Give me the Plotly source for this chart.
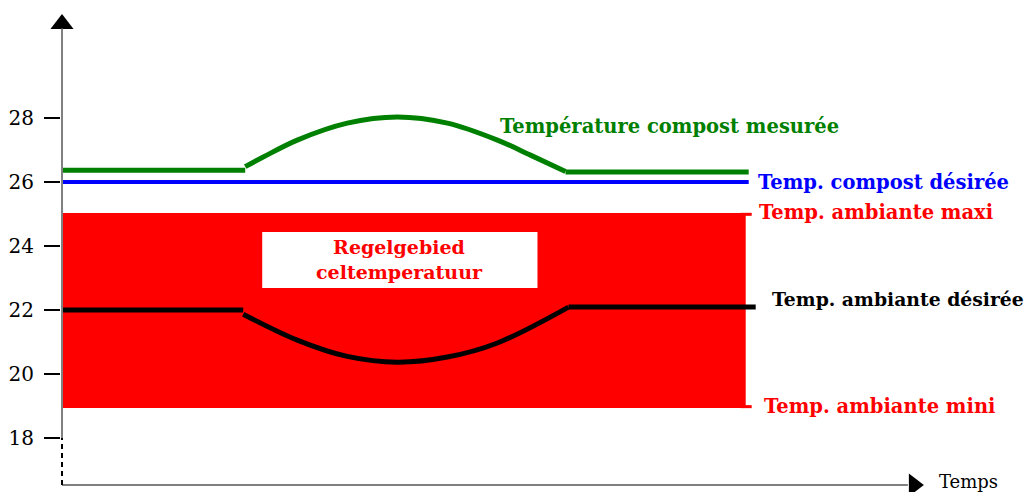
import plotly.graph_objects as go

# ---------------- data ----------------
# time axis in arbitrary units (0 = origin of the time axis)
green_flat_left_t = [0, 183]
green_flat_left_v = [26.37, 26.37]
green_curve_t = [183, 201, 235, 285, 335, 385, 435, 468, 503]
green_curve_v = [26.48, 26.78, 27.31, 27.84, 28.03, 27.84, 27.31, 26.84, 26.33]
green_flat_right_t = [503, 686]
green_flat_right_v = [26.31, 26.31]

blue_t = [0, 686]
blue_v = [26.0, 26.0]

black_flat_left_t = [0, 181]
black_flat_left_v = [22.0, 22.0]
black_curve_t = [181, 235, 285, 335, 385, 435, 506]
black_curve_v = [21.87, 21.06, 20.55, 20.37, 20.53, 20.97, 22.09]
black_flat_right_t = [506, 693]
black_flat_right_v = [22.09, 22.09]

band_t = [0, 683]
band_min, band_max = 18.94, 25.03

box_t = [200, 475]
box_v = [22.69, 24.44]

y_ticks = [18, 20, 22, 24, 26, 28]

labels = [
    ("Température compost mesurée", 436, 27.72, "#008000", 19.5),
    ("Temp. compost désirée", 693, 26.0, "#0000ff", 19.5),
    ("Temp. ambiante maxi", 694, 25.05, "#ff0000", 19.5),
    ("Temp. ambiante désirée", 707, 22.34, "#000000", 18.8),
    ("Temp. ambiante mini", 699, 18.98, "#ff0000", 19.5),
]

# ---------------- figure ----------------
# the page body adds an 8px offset, compensated in the ranges/margins
X_RANGE = [-1, 981]
Y_RANGE = [16.0625, 31.4375]
SERIF = "DejaVu Serif"

fig = go.Figure()

# red band
fig.add_shape(type="rect", x0=band_t[0], x1=band_t[1], y0=band_min, y1=band_max,
              fillcolor="#ff0000", line_width=0, layer="below")
for yv in (band_min + 0.04, band_max - 0.04):
    fig.add_shape(type="line", x0=band_t[1] - 5, x1=band_t[1] + 6, y0=yv, y1=yv,
                  line=dict(color="#ff0000", width=3))
# white box
fig.add_shape(type="rect", x0=box_t[0], x1=box_t[1], y0=box_v[0], y1=box_v[1],
              fillcolor="white", line_width=0, layer="below")
fig.add_annotation(x=(box_t[0] + box_t[1]) / 2, y=(box_v[0] + box_v[1]) / 2,
                   text="<b>Regelgebied<br>celtemperatuur</b>", showarrow=False,
                   font=dict(family=SERIF, size=19, color="#ff0000"))


def add_line(t, v, color, width, shape="linear"):
    fig.add_trace(go.Scatter(x=t, y=v, mode="lines", showlegend=False,
                             line=dict(color=color, width=width, shape=shape,
                                       smoothing=1.0)))


add_line(blue_t, blue_v, "#0000ff", 4)
add_line(green_flat_left_t, green_flat_left_v, "#008000", 5)
add_line(green_curve_t, green_curve_v, "#008000", 5, "spline")
add_line(green_flat_right_t, green_flat_right_v, "#008000", 5)
add_line(black_flat_left_t, black_flat_left_v, "#000000", 5)
add_line(black_curve_t, black_curve_v, "#000000", 5, "spline")
add_line(black_flat_right_t, black_flat_right_v, "#000000", 5)

# axes lines
x_axis_y = 16.53
fig.add_shape(type="line", x0=0, x1=845, y0=x_axis_y, y1=x_axis_y,
              line=dict(color="#808080", width=2))
fig.add_shape(type="line", x0=0, x1=0, y0=18, y1=30.8,
              line=dict(color="#808080", width=2))
fig.add_shape(type="line", x0=0, x1=0, y0=x_axis_y, y1=18,
              line=dict(color="#000000", width=2, dash="5px,4px"))
# arrow heads
fig.add_trace(go.Scatter(x=[0], y=[30.94], mode="markers", showlegend=False,
                         cliponaxis=False,
                         marker=dict(symbol="triangle-up", size=20, color="black")))
fig.add_trace(go.Scatter(x=[851], y=[x_axis_y], mode="markers", showlegend=False,
                         cliponaxis=False,
                         marker=dict(symbol="triangle-right", size=20, color="black")))
fig.add_annotation(x=874, y=16.64, text="Temps", showarrow=False, xanchor="left",
                   font=dict(family=SERIF, size=18, color="black"))

for text, x, y, color, size in labels:
    fig.add_annotation(x=x, y=y, text=f"<b>{text}</b>", showarrow=False,
                       xanchor="left", font=dict(family=SERIF, size=size, color=color))

fig.update_layout(
    width=1036, height=492, autosize=False,
    margin=dict(l=53, r=0, t=0, b=0),
    plot_bgcolor="white", paper_bgcolor="white",
    xaxis=dict(range=X_RANGE, visible=False, fixedrange=True),
    yaxis=dict(range=Y_RANGE, tickvals=y_ticks, ticktext=[str(v) for v in y_ticks],
               ticks="outside", ticklen=16, tickwidth=2, tickcolor="black",
               ticklabelstandoff=6,
               showgrid=False, zeroline=False, showline=False, automargin=False,
               tickfont=dict(family=SERIF, size=20, color="black"), fixedrange=True),
)

fig.write_html("out.html")
